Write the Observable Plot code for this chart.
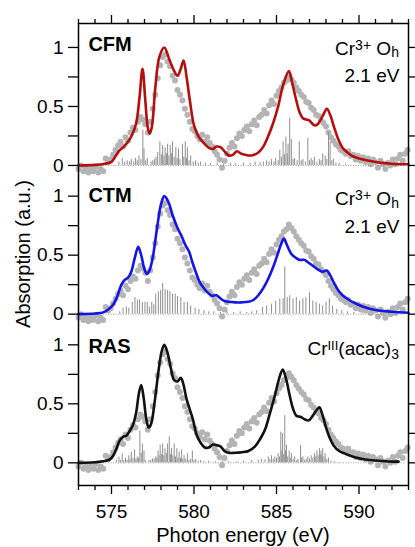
<!DOCTYPE html>
<html><head><meta charset="utf-8">
<script src="https://cdn.jsdelivr.net/npm/d3@7"></script>
<script src="https://cdn.jsdelivr.net/npm/@observablehq/plot@0.6"></script>
<style>body{margin:0;background:#fff}</style>
</head><body><div id="chart"></div>
<script>
// ---------- data ----------
const panels = ["CFM", "CTM", "RAS"];
const offsets = [2.52, 1.26, 0];
const lineColors = ["#b30f0f", "#1414e6", "#111111"];

// experimental spectrum (gray dots), same in every panel
const expE = [573.0,573.15,573.3,573.45,573.6,573.75,573.9,574.05,574.2,574.35,574.5,574.65,574.8,574.95,575.1,575.25,575.4,575.55,575.7,575.85,576.0,576.15,576.3,576.45,576.6,576.75,576.9,577.05,577.2,577.35,577.5,577.65,577.8,577.95,578.1,578.25,578.4,578.55,578.7,578.85,579.0,579.15,579.3,579.45,579.6,579.75,579.9,580.05,580.2,580.35,580.5,580.65,580.8,580.95,581.1,581.25,581.4,581.55,581.7,581.85,582.0,582.15,582.3,582.45,582.6,582.75,582.9,583.05,583.2,583.35,583.5,583.65,583.8,583.95,584.1,584.25,584.4,584.55,584.7,584.85,585.0,585.15,585.3,585.45,585.6,585.75,585.9,586.05,586.2,586.35,586.5,586.65,586.8,586.95,587.1,587.25,587.4,587.55,587.7,587.85,588.0,588.15,588.3,588.45,588.6,588.75,588.9,589.05,589.2,589.35,589.5,589.65,589.8,589.95,590.1,590.25,590.4,590.55,590.7,590.85,591.0,591.15,591.3,591.45,591.6,591.75,591.9,592.05,592.2,592.35,592.5,592.65,592.8,592.95];
const expA = [-0.03,0.00,-0.05,-0.02,-0.06,-0.03,-0.05,-0.01,-0.06,-0.03,-0.05,0.06,0.03,0.05,0.09,0.13,0.17,0.20,0.16,0.24,0.21,0.28,0.32,0.30,0.37,0.41,0.39,0.35,0.28,0.37,0.48,0.60,0.74,0.85,0.92,0.94,0.88,0.84,0.76,0.72,0.64,0.60,0.55,0.48,0.43,0.37,0.31,0.29,0.25,0.22,0.26,0.20,0.24,0.19,0.16,0.12,0.09,0.05,-0.02,0.04,0.10,0.15,0.19,0.16,0.23,0.27,0.25,0.30,0.33,0.29,0.35,0.38,0.34,0.41,0.43,0.47,0.44,0.51,0.55,0.52,0.59,0.63,0.66,0.70,0.72,0.76,0.73,0.70,0.66,0.63,0.60,0.58,0.54,0.53,0.49,0.47,0.43,0.42,0.38,0.36,0.33,0.28,0.24,0.21,0.18,0.16,0.13,0.12,0.10,0.12,0.08,0.09,0.05,0.08,0.04,0.07,0.03,0.06,0.01,0.05,0.03,-0.02,0.04,0.01,-0.03,0.02,0.00,0.05,0.01,0.06,0.09,0.04,0.10,0.13];

// calculated spectra (lines)
const cfmE = [573.0,574.0,574.6,575.0,575.25,575.5,575.75,576.0,576.25,576.5,576.7,576.88,577.05,577.2,577.32,577.45,577.65,577.9,578.2,578.5,578.8,579.0,579.2,579.37,579.55,579.75,580.0,580.3,580.6,580.9,581.15,581.35,581.6,581.85,582.1,582.35,582.6,582.85,583.1,583.5,583.9,584.2,584.5,584.8,585.1,585.4,585.75,585.95,586.15,586.4,586.6,586.8,587.0,587.3,587.5,587.8,588.05,588.25,588.5,588.75,589.0,589.3,589.6,590.0,590.6,591.2,592.0,593.0];
const cfmA = [0.0,0.005,0.015,0.03,0.08,0.13,0.16,0.20,0.26,0.36,0.58,0.82,0.55,0.32,0.27,0.33,0.65,0.92,1.0,0.90,0.80,0.76,0.82,0.89,0.75,0.55,0.34,0.24,0.19,0.15,0.14,0.16,0.155,0.12,0.085,0.09,0.12,0.10,0.09,0.085,0.11,0.16,0.25,0.36,0.50,0.68,0.80,0.70,0.58,0.45,0.40,0.39,0.38,0.34,0.35,0.42,0.48,0.43,0.32,0.22,0.15,0.11,0.08,0.06,0.04,0.025,0.015,0.01];
const ctmE = [573.0,574.0,574.5,574.8,575.1,575.35,575.6,575.8,576.0,576.2,576.4,576.62,576.8,577.0,577.15,577.3,577.5,577.75,578.0,578.2,578.45,578.7,579.0,579.25,579.5,579.7,579.9,580.1,580.35,580.6,580.85,581.1,581.35,581.55,581.8,582.1,582.5,582.9,583.3,583.6,583.9,584.2,584.5,584.8,585.05,585.3,585.45,585.65,585.9,586.15,586.4,586.7,586.9,587.2,587.5,587.8,588.05,588.25,588.5,588.75,589.0,589.4,589.8,590.3,591.0,592.0,593.0];
const ctmA = [0.0,0.005,0.015,0.04,0.08,0.15,0.25,0.29,0.31,0.36,0.47,0.57,0.50,0.38,0.34,0.37,0.48,0.72,0.93,1.0,0.95,0.84,0.73,0.66,0.58,0.53,0.44,0.36,0.27,0.22,0.18,0.155,0.16,0.14,0.115,0.105,0.10,0.10,0.105,0.12,0.16,0.22,0.30,0.40,0.50,0.60,0.64,0.58,0.51,0.48,0.46,0.46,0.44,0.41,0.38,0.36,0.37,0.33,0.26,0.20,0.16,0.12,0.09,0.06,0.035,0.02,0.012];
const rasE = [573.0,574.0,574.6,574.9,575.1,575.3,575.5,575.7,575.9,576.1,576.3,576.5,576.65,576.8,576.95,577.1,577.25,577.4,577.6,577.85,578.05,578.2,578.4,578.6,578.8,579.0,579.2,579.35,579.55,579.75,579.95,580.15,580.4,580.65,580.9,581.15,581.35,581.6,581.85,582.1,582.5,582.9,583.3,583.7,584.0,584.3,584.6,584.9,585.15,585.38,585.6,585.8,586.0,586.2,586.45,586.7,586.95,587.2,587.45,587.6,587.8,588.0,588.2,588.45,588.8,589.2,589.7,590.3,591.0,591.8,592.4];
const rasA = [0.0,0.005,0.015,0.03,0.06,0.12,0.19,0.22,0.23,0.27,0.32,0.43,0.58,0.66,0.55,0.38,0.30,0.33,0.50,0.78,0.95,1.0,0.93,0.80,0.70,0.69,0.72,0.67,0.54,0.45,0.36,0.24,0.17,0.13,0.13,0.155,0.15,0.14,0.10,0.085,0.085,0.09,0.10,0.14,0.20,0.28,0.42,0.57,0.71,0.79,0.70,0.57,0.46,0.40,0.39,0.37,0.36,0.40,0.45,0.47,0.40,0.30,0.22,0.15,0.10,0.075,0.05,0.03,0.02,0.012,0.01];

// stick spectra
const cfmStickE = [575.45,575.65,575.8,575.95,576.1,576.2,576.35,576.46,576.56,576.66,576.78,576.9,576.97,577.07,577.17,577.4,577.5,577.6,577.7,577.8,577.93,578.02,578.1,578.18,578.25,578.33,578.4,578.48,578.56,578.63,578.7,578.8,578.9,578.98,579.06,579.15,579.3,579.38,579.47,579.54,579.6,579.7,579.8,579.95,580.1,580.25,580.4,580.7,581.0,581.4,581.8,582.2,582.5,583.0,583.4,583.7,584.0,584.2,584.4,584.55,584.7,584.85,584.95,585.1,585.2,585.3,585.4,585.48,585.57,585.65,585.7,585.8,585.9,586.0,586.1,586.25,586.38,586.5,586.6,586.75,586.9,587.0,587.1,587.2,587.3,587.45,587.6,587.7,587.8,587.95,588.05,588.15,588.25,588.35,588.45,588.6,588.8,589.2];
const cfmStickH = [0.03,0.06,0.03,0.04,0.03,0.05,0.03,0.06,0.04,0.08,0.05,0.30,0.14,0.04,0.06,0.03,0.04,0.05,0.07,0.11,0.20,0.09,0.17,0.08,0.15,0.10,0.18,0.08,0.17,0.10,0.20,0.07,0.15,0.06,0.14,0.05,0.18,0.07,0.20,0.06,0.15,0.04,0.08,0.03,0.04,0.02,0.03,0.02,0.015,0.02,0.01,0.02,0.015,0.02,0.02,0.03,0.025,0.03,0.04,0.03,0.05,0.03,0.06,0.04,0.13,0.07,0.20,0.09,0.24,0.10,0.18,0.40,0.22,0.05,0.06,0.04,0.20,0.04,0.05,0.03,0.23,0.04,0.06,0.04,0.07,0.03,0.05,0.04,0.10,0.08,0.05,0.28,0.20,0.04,0.05,0.02,0.015,0.01];
const ctmStickE = [575.5,575.7,575.9,576.05,576.26,576.42,576.57,576.7,576.87,577.03,577.17,577.3,577.44,577.56,577.68,577.84,577.98,578.1,578.25,578.4,578.54,578.7,578.86,579.0,579.2,579.4,579.6,579.8,580.07,580.3,580.6,580.9,581.2,581.6,582.0,582.4,582.8,583.2,583.5,583.8,584.15,584.4,584.7,584.95,585.2,585.4,585.5,585.65,585.8,586.0,586.2,586.4,586.6,586.78,587.0,587.2,587.4,587.6,587.8,588.0,588.2,588.4,588.65,588.96,589.3,589.7,590.2];
const ctmStickH = [0.02,0.05,0.06,0.05,0.10,0.14,0.12,0.12,0.10,0.10,0.10,0.06,0.10,0.08,0.17,0.19,0.20,0.26,0.21,0.20,0.19,0.17,0.17,0.15,0.14,0.10,0.10,0.07,0.05,0.04,0.03,0.02,0.02,0.015,0.02,0.015,0.02,0.015,0.02,0.03,0.056,0.07,0.085,0.11,0.13,0.13,0.40,0.14,0.155,0.13,0.14,0.11,0.13,0.14,0.18,0.11,0.10,0.085,0.07,0.10,0.13,0.07,0.04,0.03,0.02,0.015,0.01];
const rasStickE = [575.3,575.45,575.55,575.65,575.75,575.85,575.95,576.05,576.12,576.2,576.3,576.4,576.48,576.56,576.64,576.72,576.8,576.87,576.97,577.05,577.27,577.38,577.48,577.58,577.68,577.75,577.82,577.88,577.95,578.02,578.1,578.17,578.24,578.32,578.4,578.5,578.57,578.64,578.72,578.8,578.88,578.96,579.03,579.1,579.18,579.25,579.32,579.4,579.5,579.6,579.7,579.8,579.9,580.0,580.1,580.25,580.4,580.6,580.9,581.3,581.7,582.1,582.6,583.0,583.5,583.9,584.1,584.3,584.5,584.6,584.7,584.8,584.9,585.0,585.1,585.18,585.26,585.32,585.37,585.44,585.5,585.55,585.6,585.68,585.77,585.83,585.9,586.0,586.1,586.2,586.3,586.46,586.52,586.6,586.7,586.8,586.9,587.0,587.1,587.2,587.3,587.38,587.45,587.52,587.6,587.65,587.7,587.75,587.8,587.88,587.95,588.05,588.15,588.3,588.5];
const rasStickH = [0.02,0.048,0.02,0.076,0.02,0.04,0.02,0.06,0.03,0.09,0.04,0.11,0.03,0.05,0.04,0.27,0.08,0.16,0.10,0.02,0.02,0.02,0.034,0.03,0.05,0.04,0.10,0.06,0.15,0.07,0.16,0.06,0.12,0.08,0.16,0.22,0.07,0.12,0.06,0.16,0.05,0.12,0.04,0.09,0.04,0.11,0.03,0.06,0.03,0.076,0.02,0.03,0.10,0.02,0.03,0.015,0.02,0.01,0.015,0.01,0.015,0.01,0.01,0.015,0.02,0.02,0.03,0.025,0.05,0.03,0.06,0.03,0.05,0.04,0.08,0.05,0.26,0.10,0.25,0.07,0.40,0.10,0.15,0.05,0.10,0.04,0.08,0.03,0.05,0.02,0.03,0.15,0.04,0.05,0.02,0.03,0.05,0.03,0.06,0.04,0.08,0.05,0.10,0.06,0.12,0.07,0.10,0.06,0.12,0.05,0.08,0.03,0.04,0.015,0.01];
const stickBaseRange = [573.3, 592.8];

// axes
const xDomain = [573, 593];
const yDomain = [-0.192, 3.723];
const xMajorTicks = [575, 580, 585, 590];
const xMinorTicks = [573,574,576,577,578,579,581,582,583,584,586,587,588,589,591,592,593];
const yTickValues = [0, 0.5, 1];
const yTickLabels = ["0", "0.5", "1"];
const yMinorValues = [0.25, 0.75];
const labelRelY = [0.97, 0.95, 0.935];

// ---------- build ----------
const font = "'Liberation Sans', Arial, Helvetica, sans-serif";
const curveE = [cfmE, ctmE, rasE], curveA = [cfmA, ctmA, rasA];
const stickE = [cfmStickE, ctmStickE, rasStickE], stickH = [cfmStickH, ctmStickH, rasStickH];

const expRows = panels.flatMap((p, i) => expE.map((e, j) => ({p, e, v: expA[j] + offsets[i]})));
const lineRows = panels.flatMap((p, i) => curveE[i].map((e, j) => ({p, e, v: curveA[i][j] + offsets[i]})));
const stickRows = panels.flatMap((p, i) => stickE[i].map((e, j) => ({p, e, y1: offsets[i], y2: offsets[i] + stickH[i][j]})));
const baseRows = panels.map((p, i) => ({p, y: offsets[i]}));

const yMajor = [], yMinor = [], labelMap = new Map();
offsets.forEach(o => {
  yTickValues.forEach((v, k) => { yMajor.push(o + v); labelMap.set(o + v, yTickLabels[k]); });
  yMinorValues.forEach(v => yMinor.push(o + v));
});
const yAll = yMajor.concat(yMinor);

const svg = Plot.plot({
  width: 415, height: 547,
  marginLeft: 78, marginRight: 7, marginTop: 23, marginBottom: 62,
  style: {fontFamily: font, fontSize: "19px", background: "#fff", color: "#000", overflow: "visible"},
  x: {domain: xDomain},
  y: {domain: yDomain},
  color: {domain: panels, range: lineColors},
  marks: [
    Plot.dot(expRows, {x: "e", y: "v", r: 3, fill: "#b4b4b4", stroke: "none"}),
    Plot.ruleY(baseRows, {y: "y", x1: stickBaseRange[0], x2: stickBaseRange[1], stroke: "#999", strokeWidth: 1, strokeDasharray: "1,1.5"}),
    Plot.ruleX(stickRows, {x: "e", y1: "y1", y2: "y2", stroke: "#8f8f8f", strokeWidth: 1}),
    Plot.line(lineRows, {x: "e", y: "v", z: "p", stroke: "p", strokeWidth: 2.6, curve: "catmull-rom"}),
    Plot.frame({stroke: "#000", strokeWidth: 1.5}),
    Plot.axisX({ticks: xMajorTicks, anchor: "bottom", tickSize: 9, tickPadding: 10, label: null, strokeWidth: 1.3}),
    Plot.axisX({ticks: xMinorTicks, anchor: "bottom", tickSize: 5, tickFormat: () => "", label: null, strokeWidth: 1.3}),
    Plot.axisX({ticks: xMajorTicks, anchor: "top", tickSize: 9, tickFormat: () => "", label: null, strokeWidth: 1.3}),
    Plot.axisX({ticks: xMinorTicks, anchor: "top", tickSize: 5, tickFormat: () => "", label: null, strokeWidth: 1.3}),
    Plot.axisY({ticks: yMajor, anchor: "left", tickSize: 10, tickPadding: 5, tickFormat: d => labelMap.get(d), label: null, strokeWidth: 1.3}),
    Plot.axisY({ticks: yMinor, anchor: "left", tickSize: 10, tickFormat: () => "", label: null, strokeWidth: 1.3}),
    Plot.axisY({ticks: yAll, anchor: "right", tickSize: 7, tickFormat: () => "", label: null, strokeWidth: 1.3}),
    Plot.text(panels, {x: 573.6, y: (d, i) => offsets[i] + labelRelY[i], text: d => d, textAnchor: "start", lineAnchor: "bottom", fontSize: 20, fontWeight: "bold", fill: "#000"}),
    Plot.text(["2.1 eV", "2.1 eV"], {x: 592.45, y: (d, i) => offsets[i] + [0.706, 0.691][i], text: d => d, textAnchor: "end", lineAnchor: "bottom", fontSize: 19, fill: "#000"})
  ]
});

const X = svg.scale("x"), Y = svg.scale("y");
const s = d3.select(svg);
function rich(xv, yv, parts) {
  const t = s.append("text").attr("x", X.apply(xv)).attr("y", Y.apply(yv))
    .attr("text-anchor", "end").attr("font-family", font).attr("font-size", 19).attr("fill", "#000");
  parts.forEach(([str, size, dy]) => t.append("tspan").attr("font-size", size).attr("dy", dy).text(str));
}
rich(592.45, offsets[0] + 0.932, [["Cr", 19, 0], ["3+", 14, -5], [" O", 19, 5], ["h", 14, 2.5]]);
rich(592.45, offsets[1] + 0.918, [["Cr", 19, 0], ["3+", 14, -5], [" O", 19, 5], ["h", 14, 2.5]]);
rich(592.45, offsets[2] + 0.909, [["Cr", 19, 0], ["III", 13, -5], ["(acac)", 19, 5], ["3", 14, 4]]);

const cx = (X.apply(xDomain[0]) + X.apply(xDomain[1])) / 2;
s.append("text").attr("x", cx).attr("y", 542).attr("text-anchor", "middle")
  .attr("font-family", font).attr("font-size", 20).attr("fill", "#000").text("Photon energy (eV)");
const cy = (Y.apply(yDomain[0]) + Y.apply(yDomain[1])) / 2;
s.append("text").attr("transform", `translate(30,${cy}) rotate(-90)`).attr("text-anchor", "middle")
  .attr("font-family", font).attr("font-size", 20).attr("fill", "#000").text("Absorption (a.u.)");

document.getElementById("chart").appendChild(svg);
</script></body></html>
